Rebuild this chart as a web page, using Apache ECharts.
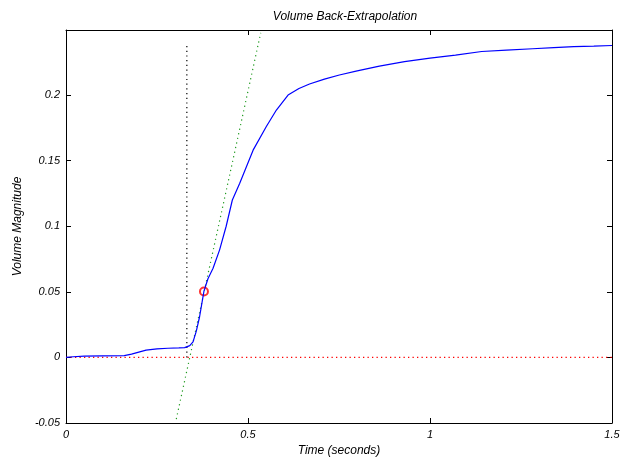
<!DOCTYPE html>
<html>
<head>
<meta charset="utf-8">
<script src="https://cdn.jsdelivr.net/npm/echarts@6/dist/echarts.min.js"></script>
<style>html,body{margin:0;padding:0;background:#fff}#c{width:620px;height:458px}</style>
</head>
<body>
<div id="c"></div>
<script>
// Data
const timeValues = [0, 0.02, 0.05, 0.1, 0.16, 0.18, 0.2, 0.22, 0.25, 0.28, 0.31, 0.326, 0.34, 0.349, 0.358, 0.367, 0.379, 0.39, 0.404, 0.422, 0.44, 0.457, 0.477, 0.514, 0.55, 0.578, 0.61, 0.64, 0.669, 0.71, 0.751, 0.8, 0.861, 0.93, 1.0, 1.07, 1.142, 1.21, 1.282, 1.34, 1.395, 1.45, 1.5];
const volumeValues = [0, 0.0005, 0.001, 0.0012, 0.0013, 0.0025, 0.004, 0.0055, 0.0065, 0.007, 0.0073, 0.0075, 0.009, 0.0119, 0.02, 0.031, 0.0505, 0.06, 0.068, 0.082, 0.1, 0.12, 0.1326, 0.158, 0.1758, 0.1886, 0.2, 0.205, 0.2084, 0.2122, 0.2153, 0.2185, 0.2221, 0.2255, 0.2281, 0.2305, 0.2332, 0.2342, 0.2353, 0.2362, 0.2369, 0.2373, 0.2378];
const zeroLineX = [0, 1.5];
const zeroLineY = [0, 0];
const verticalLineX = [0.332, 0.332];
const verticalLineY = [0, 0.2392];
const tangentX = [0.303, 0.535];
const tangentY = [-0.047, 0.2475];
const markerPoint = [0.379, 0.0502];
const xTickLabels = ['0', '0.5', '1', '1.5'];
const yTickLabels = ['-0.05', '0', '0.05', '0.1', '0.15', '0.2'];
const xRange = [0, 1.5];
const yRange = [-0.05, 0.2496];

const zip = (a, b) => a.map((v, i) => [v, b[i]]);
const fmt = (labels) => (v) => {
  for (const l of labels) { if (Math.abs(parseFloat(l) - v) < 1e-9) return l; }
  return '';
};
const font = 'Liberation Sans, Arial, sans-serif';
const labelStyle = { color: '#000', fontSize: 11, fontStyle: 'italic', fontFamily: font };
const nameStyle = { color: '#000', fontSize: 12, fontStyle: 'italic', fontFamily: font };

function xAx(pos, show) {
  return {
    type: 'value', position: pos, min: xRange[0], max: xRange[1], interval: 0.5,
    axisLine: { show: true, onZero: false, lineStyle: { color: '#000', width: 1 } },
    axisTick: { show: true, inside: true, length: 5, lineStyle: { color: '#000' } },
    axisLabel: { show: show, margin: 6, formatter: fmt(xTickLabels), ...labelStyle },
    splitLine: { show: false },
    name: show ? 'Time (seconds)' : '', nameLocation: 'middle', nameGap: 17,
    nameTextStyle: nameStyle
  };
}
function yAx(pos, show) {
  return {
    type: 'value', position: pos, min: yRange[0], max: yRange[1], interval: 0.05,
    axisLine: { show: true, onZero: false, lineStyle: { color: '#000', width: 1 } },
    axisTick: { show: true, inside: true, length: 5, lineStyle: { color: '#000' } },
    axisLabel: { show: show, margin: 6, formatter: fmt(yTickLabels), ...labelStyle },
    splitLine: { show: false },
    name: show ? 'Volume Magnitude' : '', nameLocation: 'middle', nameGap: 40,
    nameTextStyle: nameStyle
  };
}

const chart = echarts.init(document.getElementById('c'), null, { renderer: 'canvas' });
chart.setOption({
  animation: false,
  backgroundColor: '#fff',
  title: {
    text: 'Volume Back-Extrapolation', left: 340, top: 6, textAlign: 'center',
    textStyle: { ...nameStyle, fontWeight: 'normal' }
  },
  grid: { left: 66, right: 8, top: 30, bottom: 35, show: false, containLabel: false, outerBoundsMode: 'none' },
  xAxis: [xAx('bottom', true), xAx('top', false)],
  yAxis: [yAx('left', true), yAx('right', false)],
  series: [
    { type: 'line', data: zip(zeroLineX, zeroLineY), showSymbol: false, silent: true,
      lineStyle: { color: '#ff0000', width: 1.3, type: [1.3, 3.2] } },
    { type: 'line', data: zip(verticalLineX, verticalLineY), showSymbol: false, silent: true,
      lineStyle: { color: '#000', width: 1.2, type: [1.2, 3.5] } },
    { type: 'line', data: zip(tangentX, tangentY), showSymbol: false, silent: true,
      lineStyle: { color: '#1f9a1f', width: 1.2, type: [1.2, 3.5] } },
    { type: 'line', data: zip(timeValues, volumeValues), showSymbol: false,
      lineStyle: { color: '#0000ff', width: 1.2 } },
    { type: 'scatter', data: [markerPoint], symbol: 'emptyCircle', symbolSize: 8,
      itemStyle: { color: '#ff0000', borderColor: '#ff0000', borderWidth: 1 } }
  ]
});
</script>
</body>
</html>
